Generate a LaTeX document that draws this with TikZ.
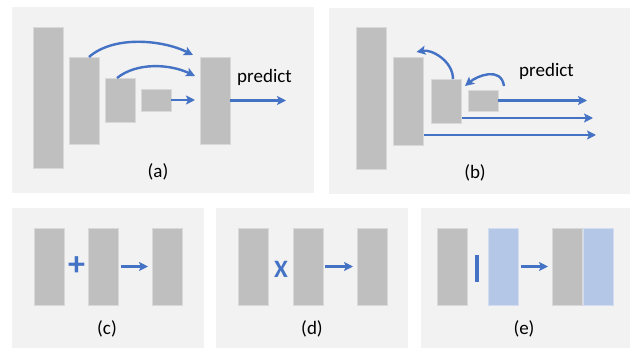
\documentclass[tikz,border=0pt]{standalone}
\usepackage{fontspec}
\setmainfont{Carlito}
\usetikzlibrary{arrows.meta}
\definecolor{panelbg}{HTML}{F2F2F2}
\definecolor{bargray}{HTML}{BFBFBF}
\definecolor{arrowblue}{HTML}{4472C4}
\definecolor{lightblue}{HTML}{B4C7E7}
\begin{document}
\begin{tikzpicture}[x=1pt,y=-1pt,
  bar/.style={rectangle, fill=bargray, draw=white!40!bargray, line width=0.5pt, inner sep=0pt, outer sep=0pt, minimum width=30pt},
  bluebar/.style={bar, fill=lightblue, draw=white!40!lightblue},
  arr/.style={draw=arrowblue, line width=2.4pt, -{Stealth[length=9pt,width=9pt,inset=2pt]}},
  lbl/.style={inner sep=0pt, font=\fontsize{19}{22}\selectfont},
  op/.style={inner sep=0pt, text=arrowblue, font=\fontsize{#1}{#1}\selectfont\bfseries}]
\useasboundingbox (0,0) rectangle (630,348);
% panels
\fill[panelbg] (12,7) rectangle (314,193);
\fill[panelbg] (329,8) rectangle (630,194);
\fill[panelbg] (12,208) rectangle (204,348);
\fill[panelbg] (216,208) rectangle (408,348);
\fill[panelbg] (421,208) rectangle (630,348);
% (a)
\node[bar, minimum height=141pt] (a1) at (48,97.5) {};
\node[bar, minimum height=87pt] (a2) at (84,100.5) {};
\node[bar, minimum height=44pt] (a3) at (120,100) {};
\node[bar, minimum height=22pt] (a4) at (156,100) {};
\node[bar, minimum height=87pt] (a5) at (215,100.5) {};
\draw[arr] ([xshift=5pt]a2.north) .. controls +(25,-22) and +(-30,-15) .. ([xshift=-7pt,yshift=2pt]a5.north west);
\draw[arr] ([xshift=-3pt]a3.north) .. controls +(20,-16) and +(-25,-12) .. ([xshift=-5pt,yshift=-19pt]a5.north west);
\draw[arr, shorten >=5pt] (a4.east) -- (a4.east -| a5.west);
\coordinate (pa) at (286,100.5);
\draw[arr] (a5.east) -- (pa);
\node[lbl] (predA) at (264.5,77) {predict};
\node[lbl] (la) at (158,172) {(a)};
% (b)
\node[bar, minimum height=142pt] (b1) at (371.5,98) {};
\node[bar, minimum height=88pt] (b2) at (408.5,101) {};
\node[bar, minimum height=44pt] (b3) at (446.5,101) {};
\node[bar, minimum height=21pt] (b4) at (483,100.5) {};
\coordinate (pb4) at (587,100.5);
\coordinate (pb3) at (593,118);
\coordinate (pb2) at (596,135);
\draw[arr] (b4.east) -- (pb4);
\draw[arr] ([yshift=-17pt]b3.east) -- (pb3);
\draw[arr] ([yshift=-34pt]b2.east) -- (pb2);
\draw[arr] ([xshift=6.5pt]b3.north) .. controls +(0,-18) and +(15,-3) .. ([xshift=-7pt,yshift=5pt]b2.north east);
\draw[arr] ([xshift=6pt,yshift=4pt]b4.north east) .. controls +(-3,-20) and +(12,-10) .. ([xshift=-3pt,yshift=4pt]b4.north west);
\node[lbl] (predB) at (546.5,71) {predict};
\node[lbl] (lb) at (475,173) {(b)};
% (c)
\node[bar, minimum height=77pt] (c1) at (49,266.5) {};
\node[bar, minimum height=77pt] (c2) at (103.5,266.5) {};
\node[bar, minimum height=77pt] (c3) at (167,266.5) {};
\node[op=34] (cplus) at (76.5,266) {+};
\draw[arr, shorten <=2pt, shorten >=4pt] (c2.east) -- (c3.west);
\node[lbl] (lc) at (107,329) {(c)};
% (d)
\node[bar, minimum height=77pt] (d1) at (253.5,266.5) {};
\node[bar, minimum height=77pt] (d2) at (308.5,266.5) {};
\node[bar, minimum height=77pt] (d3) at (372,266.5) {};
\node[op=25] (dx) at (281,269) {X};
\draw[arr, shorten <=1pt, shorten >=4pt] (d2.east) -- (d3.west);
\node[lbl] (ld) at (312,329) {(d)};
% (e)
\node[bar, minimum height=77pt] (e1) at (452,266.5) {};
\node[rectangle, fill=arrowblue, inner sep=0pt, minimum width=4pt, minimum height=27pt] (ebar) at (477,268.5) {};
\node[bluebar, minimum height=77pt] (e2) at (503.5,266.5) {};
\node[bar, minimum height=77pt] (e3) at (567,266.5) {};
\node[bluebar, minimum height=77pt] (e4) at (598,266.5) {};
\draw[arr, shorten <=2pt, shorten >=4pt] (e2.east) -- (e3.west);
\node[lbl] (le) at (524,329) {(e)};
\end{tikzpicture}
\end{document}
